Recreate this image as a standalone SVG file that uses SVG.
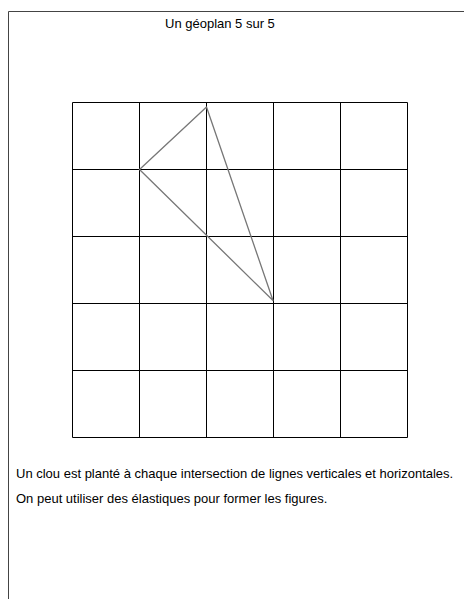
<svg xmlns="http://www.w3.org/2000/svg" width="464" height="599" viewBox="0 0 464 599">
<style>
text{font-family:"Liberation Sans",Arial,sans-serif;font-size:13px;fill:#000}
.grid line{stroke:#000;stroke-width:1}
.frame{stroke:#444;stroke-width:1;fill:none}
.elastic{stroke:#777;stroke-width:1.3;fill:none;stroke-linejoin:round}
</style>
<rect width="464" height="599" fill="#fff"/>
<path class="frame" d="M8.5,599 V11.5 H464"/>
<text id="title" x="165" y="28">Un géoplan 5 sur 5</text>
<g id="grid" class="grid">
<line x1="72.5" y1="102.5" x2="72.5" y2="437.5"/>
<line x1="139.5" y1="102.5" x2="139.5" y2="437.5"/>
<line x1="206.5" y1="102.5" x2="206.5" y2="437.5"/>
<line x1="273.5" y1="102.5" x2="273.5" y2="437.5"/>
<line x1="340.5" y1="102.5" x2="340.5" y2="437.5"/>
<line x1="407.5" y1="102.5" x2="407.5" y2="437.5"/>
<line x1="72.5" y1="102.5" x2="407.5" y2="102.5"/>
<line x1="72.5" y1="169.5" x2="407.5" y2="169.5"/>
<line x1="72.5" y1="236.5" x2="407.5" y2="236.5"/>
<line x1="72.5" y1="303.5" x2="407.5" y2="303.5"/>
<line x1="72.5" y1="370.5" x2="407.5" y2="370.5"/>
<line x1="72.5" y1="437.5" x2="407.5" y2="437.5"/>
</g>
<g id="triangle">
<polygon class="elastic" points="206.5,107 139.5,169.5 273,300.5"/>
</g>
<g id="caption">
<text x="16" y="478">Un clou est planté à chaque intersection de lignes verticales et horizontales.</text>
<text x="16" y="503">On peut utiliser des élastiques pour former les figures.</text>
</g>
</svg>
